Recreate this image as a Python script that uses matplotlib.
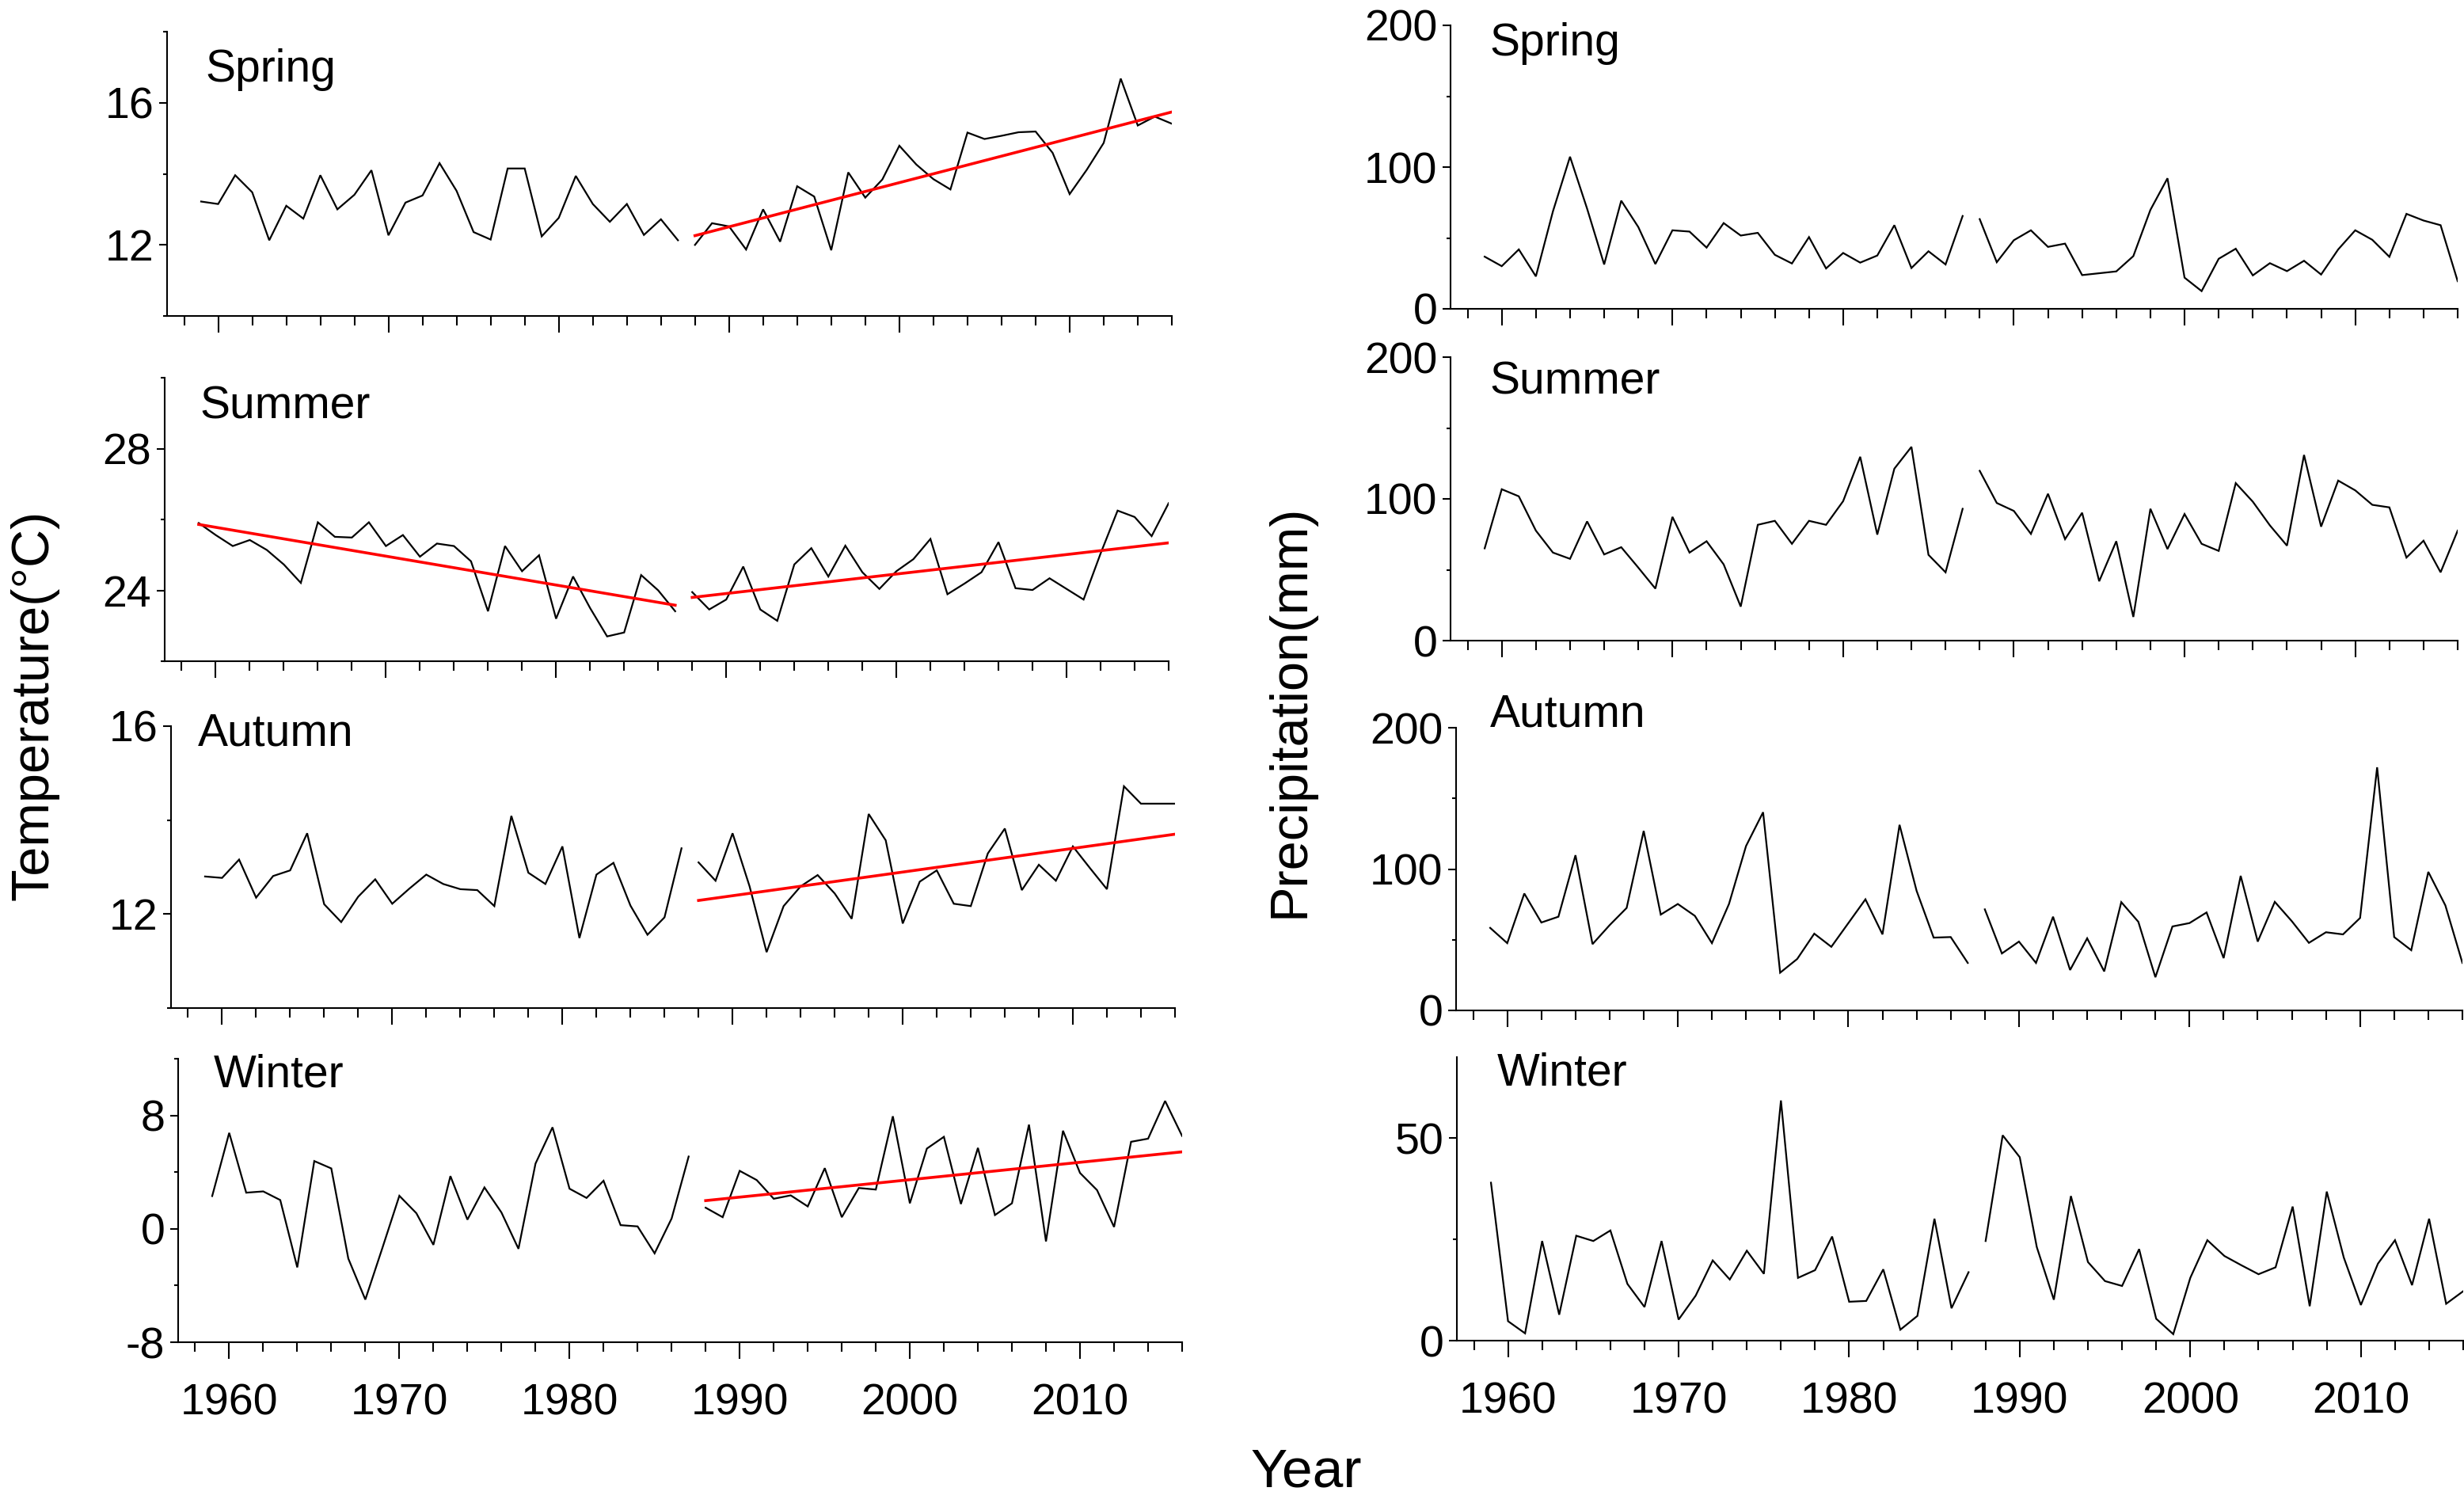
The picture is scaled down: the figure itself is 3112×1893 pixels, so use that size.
import matplotlib
matplotlib.use('Agg')
import matplotlib.pyplot as plt
from matplotlib.ticker import FixedLocator

plt.rcParams['font.family'] = ['Liberation Sans', 'DejaVu Sans']
plt.rcParams['axes.unicode_minus'] = False

# ---------------- data ----------------
years_a = list(range(1959, 1988))
years_b = list(range(1988, 2017))
trend_years_a = [1959, 1987]
trend_years_b = [1988, 2016]

# Temperature (°C)
t_spring_a = [13.22, 13.15, 13.96, 13.48, 12.13, 13.10, 12.74, 13.96, 13.00, 13.41,
              14.10, 12.27, 13.19, 13.39, 14.30, 13.52, 12.36, 12.15, 14.15, 14.15,
              12.24, 12.76, 13.94, 13.15, 12.65, 13.15, 12.28, 12.72, 12.13]
t_spring_b = [12.00, 12.61, 12.52, 11.87, 13.00, 12.09, 13.65, 13.36, 11.85, 14.04,
              13.33, 13.84, 14.79, 14.26, 13.85, 13.56, 15.16, 14.98, 15.07, 15.17,
              15.19, 14.59, 13.43, 14.11, 14.87, 16.68, 15.36, 15.61, 15.41]
t_summer_a = [25.90, 25.56, 25.25, 25.42, 25.14, 24.73, 24.21, 25.92, 25.51, 25.49,
              25.92, 25.25, 25.56, 24.95, 25.32, 25.25, 24.82, 23.41, 25.25, 24.54,
              24.99, 23.20, 24.39, 23.50, 22.70, 22.81, 24.43, 24.00, 23.41]
t_summer_b = [23.95, 23.46, 23.74, 24.67, 23.46, 23.14, 24.73, 25.19, 24.39, 25.26,
              24.51, 24.04, 24.54, 24.88, 25.45, 23.89, 24.19, 24.51, 25.36, 24.06,
              24.01, 24.34, 24.04, 23.74, 25.04, 26.25, 26.07, 25.53, 26.46]
t_autumn_a = [12.80, 12.77, 13.16, 12.35, 12.81, 12.93, 13.72, 12.21, 11.83, 12.37,
              12.74, 12.22, 12.54, 12.84, 12.64, 12.53, 12.51, 12.17, 14.09, 12.88,
              12.64, 13.44, 11.49, 12.84, 13.09, 12.18, 11.56, 11.93, 13.40]
t_autumn_b = [13.10, 12.71, 13.72, 12.59, 11.19, 12.17, 12.59, 12.83, 12.44, 11.90,
              14.13, 13.57, 11.80, 12.69, 12.93, 12.22, 12.17, 13.29, 13.82, 12.51,
              13.05, 12.71, 13.44, 12.98, 12.53, 14.72, 14.35, 14.35, 14.35]
t_winter_a = [2.31, 6.77, 2.55, 2.64, 2.03, -2.72, 4.78, 4.26, -2.10, -4.99,
              -1.36, 2.33, 1.10, -1.13, 3.72, 0.65, 2.92, 1.15, -1.41, 4.60,
              7.16, 2.83, 2.18, 3.39, 0.26, 0.17, -1.73, 0.73, 5.10]
t_winter_b = [1.49, 0.82, 4.09, 3.44, 2.12, 2.36, 1.58, 4.28, 0.82, 2.88,
              2.77, 7.94, 1.80, 5.66, 6.49, 1.75, 5.71, 0.97, 1.80, 7.35,
              -0.89, 6.92, 3.94, 2.73, 0.13, 6.14, 6.36, 9.02, 6.55]

# trend lines (start, end)
t_summer_trend_a = [25.86, 23.58]
t_spring_trend_b = [12.26, 15.74]
t_summer_trend_b = [23.80, 25.34]
t_autumn_trend_b = [12.29, 13.70]
t_winter_trend_b = [1.99, 5.43]

# Precipitation (mm)
p_spring_a = [36.8, 30.1, 41.9, 22.9, 68.8, 107.3, 70.7, 31.3, 76.3, 57.7,
              31.6, 55.4, 54.5, 43.2, 60.5, 51.7, 53.6, 38.1, 32.0, 50.6,
              28.5, 39.4, 32.6, 37.6, 59.0, 28.8, 40.6, 31.3, 65.5]
p_spring_b = [63.3, 32.9, 48.4, 55.4, 43.7, 46.0, 23.8, 25.1, 26.4, 37.2,
              69.8, 92.1, 22.0, 12.5, 35.3, 42.4, 23.6, 32.2, 26.6, 33.9,
              24.2, 41.9, 55.4, 48.7, 36.7, 67.0, 62.3, 59.0, 19.5]
p_summer_a = [65.1, 106.8, 101.8, 77.6, 62.1, 57.7, 84.1, 60.8, 65.9, 51.5,
              36.7, 87.3, 62.1, 70.1, 53.8, 24.0, 81.7, 84.5, 68.3, 84.5,
              81.7, 98.4, 129.7, 74.8, 121.3, 136.7, 60.5, 48.2, 93.0]
p_summer_b = [119.8, 97.1, 91.5, 75.3, 103.6, 71.6, 90.2, 41.9, 70.1, 16.7,
              93.0, 64.6, 89.3, 68.3, 63.3, 111.1, 98.0, 81.3, 67.0, 131.0,
              80.4, 112.9, 106.0, 95.8, 94.0, 58.6, 70.5, 48.2, 77.6]
p_autumn_a = [58.4, 47.6, 82.7, 62.2, 66.3, 109.8, 46.9, 60.3, 72.5, 127.0,
              67.8, 75.3, 66.9, 47.6, 75.3, 116.3, 140.2, 26.7, 36.4, 54.3,
              45.0, 61.8, 78.6, 53.8, 131.3, 84.6, 51.5, 51.9, 33.6]
p_autumn_b = [71.5, 40.3, 48.7, 33.6, 66.3, 28.6, 51.0, 27.6, 76.6, 62.7,
              23.5, 59.4, 61.8, 69.3, 37.0, 95.2, 48.7, 76.8, 63.1, 47.8,
              55.3, 53.8, 65.4, 172.0, 51.9, 42.6, 98.0, 74.3, 33.6]
p_winter_a = [39.0, 4.8, 1.8, 24.6, 6.4, 25.9, 24.6, 27.2, 14.0, 8.3,
              24.6, 5.2, 11.1, 19.8, 15.1, 22.2, 16.5, 59.3, 15.5, 17.4,
              25.7, 9.6, 9.8, 17.6, 2.7, 6.1, 30.1, 8.0, 16.9]
p_winter_b = [24.6, 50.7, 45.3, 23.1, 10.1, 35.7, 19.4, 14.7, 13.5, 22.6,
              5.4, 1.6, 15.5, 24.8, 20.9, 18.6, 16.4, 18.1, 33.1, 8.5,
              36.8, 20.5, 8.8, 19.0, 24.8, 13.7, 30.1, 9.1, 12.2]

season_names = ['Spring', 'Summer', 'Autumn', 'Winter']
x_major = [1960, 1970, 1980, 1990, 2000, 2010]
x_minor = [y for y in range(1958, 2017, 2) if y % 10 != 0]

# ---------------- layout ----------------
W, H = 3112, 1893
fig = plt.figure(figsize=(W / 100, H / 100), dpi=100)

def add_ax(x0, x1, ytop, ybot):
    return fig.add_axes([x0 / W, 1 - ybot / H, (x1 - x0) / W, (ybot - ytop) / H])

panels = [
    # (box, ylim, major, minor, series_a, series_b, trend_a, trend_b, label_pos)
    ((211, 1480, 40, 399), (10, 18), [12, 16], [10, 14, 18],
     t_spring_a, t_spring_b, None, t_spring_trend_b, (0.038, 0.824)),
    ((208, 1476, 477, 835), (22, 30), [24, 28], [22, 26, 30],
     t_summer_a, t_summer_b, t_summer_trend_a, t_summer_trend_b, (0.035, 0.857)),
    ((216, 1484, 917, 1273), (10, 16), [12, 16], [10, 14],
     t_autumn_a, t_autumn_b, None, t_autumn_trend_b, (0.027, 0.93)),
    ((225, 1493, 1337, 1695), (-8, 12), [-8, 0, 8], [-4, 4, 12],
     t_winter_a, t_winter_b, None, t_winter_trend_b, (0.035, 0.90)),
    ((1832, 3104, 32, 390), (0, 200), [0, 100, 200], [50, 150],
     p_spring_a, p_spring_b, None, None, (0.039, 0.894)),
    ((1832, 3104, 451, 809), (0, 200), [0, 100, 200], [50, 150],
     p_summer_a, p_summer_b, None, None, (0.039, 0.87)),
    ((1839, 3110, 919, 1276), (0, 200), [0, 100, 200], [50, 150],
     p_autumn_a, p_autumn_b, None, None, (0.034, 1.003)),
    ((1840, 3111, 1335, 1693), (0, 70), [0, 50], [25],
     p_winter_a, p_winter_b, None, None, (0.04, 0.90)),
]

for i, (box, ylim, ymaj, ymin, sa, sb, tra, trb, lpos) in enumerate(panels):
    ax = add_ax(*box)
    ax.plot(years_a, sa, color='black', lw=1.6, solid_joinstyle='miter')
    ax.plot(years_b, sb, color='black', lw=1.6, solid_joinstyle='miter')
    if tra is not None:
        ax.plot(trend_years_a, tra, color='#ff0000', lw=2.6)
    if trb is not None:
        ax.plot(trend_years_b, trb, color='#ff0000', lw=2.6)
    ax.set_xlim(1957, 2016)
    ax.set_ylim(*ylim)
    for s in ('top', 'right'):
        ax.spines[s].set_visible(False)
    for s in ('left', 'bottom'):
        ax.spines[s].set_linewidth(1.5)
    ax.xaxis.set_major_locator(FixedLocator(x_major))
    ax.xaxis.set_minor_locator(FixedLocator(x_minor))
    ax.yaxis.set_major_locator(FixedLocator(ymaj))
    ax.yaxis.set_minor_locator(FixedLocator(ymin))
    ax.set_yticklabels([str(v) for v in ymaj])
    ax.tick_params(axis='x', which='major', length=15, width=1.5, direction='out',
                   labelsize=40, pad=22)
    ax.tick_params(axis='x', which='minor', length=8.5, width=1.5, direction='out')
    ax.tick_params(axis='y', which='major', length=7, width=1.5, direction='out',
                   labelsize=40, pad=5)
    ax.tick_params(axis='y', which='minor', length=3.6, width=1.5, direction='out')
    if i % 4 != 3:
        ax.tick_params(axis='x', labelbottom=False)
    ax.text(lpos[0], lpos[1], season_names[i % 4], transform=ax.transAxes,
            fontsize=41, ha='left', va='baseline')

fig.text(44 / W, 1 - 890 / H, 'Temperature(°C)', rotation=90, fontsize=48,
         ha='center', va='center')
fig.text(1630 / W, 1 - 898 / H, 'Precipitation(mm)', rotation=90, fontsize=48,
         ha='center', va='center')
fig.text(1650 / W, 1 - 1877 / H, 'Year', fontsize=50, ha='center', va='baseline')

fig.savefig('out.png', dpi=100, facecolor='white')
